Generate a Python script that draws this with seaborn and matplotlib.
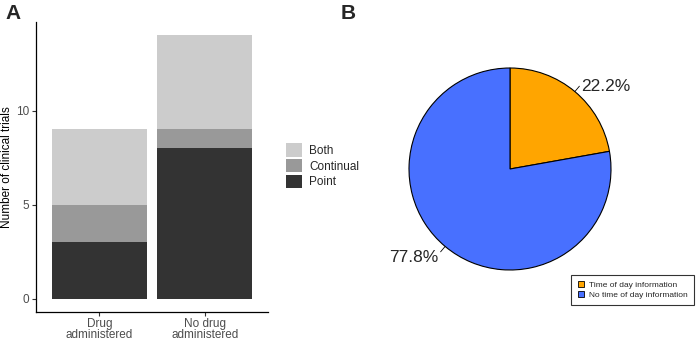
import numpy as np
import pandas as pd
import matplotlib
matplotlib.use("Agg")
import matplotlib.pyplot as plt
import seaborn as sns
from matplotlib.patches import Patch
from matplotlib.lines import Line2D

# ---- data ----
groups = ["Drug\nadministered", "No drug\nadministered"]
point_vals = [3, 8]
continual_vals = [2, 1]
both_vals = [4, 5]
stack_labels = ["Both", "Continual", "Point"]
stack_colors = {"Both": "#CCCCCC", "Continual": "#999999", "Point": "#333333"}

pie_labels = ["Time of day information", "No time of day information"]
pie_values = [22.2, 77.8]
pie_colors = ["#FFA500", "#4870FF"]

sns.set_theme(style="white")
plt.rcParams["font.family"] = ["Liberation Sans", "DejaVu Sans"]

W, H = 699, 341
fig = plt.figure(figsize=(W / 100, H / 100), dpi=100)

# ---- Panel A ----
axA = fig.add_axes([36 / W, 1 - 312 / H, (268 - 36) / W, (312 - 22) / H])
df = pd.DataFrame({"group": groups, "Point": point_vals,
                   "Continual": continual_vals, "Both": both_vals})
df["cum_point"] = df["Point"]
df["cum_cont"] = df["Point"] + df["Continual"]
df["cum_both"] = df["cum_cont"] + df["Both"]
for col, lab in [("cum_both", "Both"), ("cum_cont", "Continual"), ("cum_point", "Point")]:
    sns.barplot(data=df, x="group", y=col, color=stack_colors[lab], width=0.9,
                saturation=1, linewidth=0, ax=axA, errorbar=None)
axA.set_xlim(-0.6, 1.6)
axA.set_ylim(-0.7, 14.7)
axA.set_yticks([0, 5, 10])
axA.set_xlabel("")
axA.set_ylabel("Number of clinical trials", fontsize=8.5, color="black")
axA.yaxis.set_label_coords(-0.097, 0.5)
for s in ["top", "right"]:
    axA.spines[s].set_visible(False)
for s in ["left", "bottom"]:
    axA.spines[s].set_color("black")
    axA.spines[s].set_linewidth(0.9)
axA.tick_params(axis="both", which="both", length=3, width=0.8, color="#333333",
                labelsize=8.5, labelcolor="#4D4D4D", left=True, bottom=True, pad=2)
axA.tick_params(axis="x", pad=1)
for t in axA.get_xticklabels():
    t.set_linespacing(0.92)
handles = [Patch(facecolor=stack_colors[l], edgecolor="none", label=l) for l in stack_labels]
fig.legend(handles=handles, loc="upper left", bbox_to_anchor=(284 / W, 1 - 141 / H),
           frameon=False, fontsize=8.5, handlelength=1.36, handleheight=1.36,
           labelspacing=0.17, handletextpad=0.6, borderaxespad=0, borderpad=0.2)

# ---- Panel B ----
cx, cy, r = 510, 169, 101
s = r * 1.25
axB = fig.add_axes([(cx - s) / W, 1 - (cy + s) / H, 2 * s / W, 2 * s / H])
wedges, _ = axB.pie(pie_values, colors=pie_colors, startangle=90, counterclock=False,
                    wedgeprops=dict(edgecolor="black", linewidth=0.8))
axB.set_xlim(-1.25, 1.25)
axB.set_ylim(-1.25, 1.25)
axB.set_aspect("equal")
axB.axis("off")
for w, v in zip(wedges, pie_values):
    ang = np.deg2rad((w.theta1 + w.theta2) / 2)
    x0, y0 = np.cos(ang), np.sin(ang)
    axB.plot([1.0 * x0, 1.07 * x0], [1.0 * y0, 1.07 * y0], color="black", lw=0.6)
    ha = "left" if x0 > 0 else "right"
    axB.text(1.1 * x0, 1.1 * y0 - 0.03, f"{v:.1f}%", ha=ha, va="center", fontsize=12.5)

hB = [Line2D([], [], marker="s", linestyle="", markerfacecolor=c, markeredgecolor="black",
             markeredgewidth=0.6, markersize=4.5, label=l) for c, l in zip(pie_colors, pie_labels)]
legB = fig.legend(handles=hB, loc="upper right", bbox_to_anchor=(694 / W, 1 - 275 / H),
                  fontsize=6, frameon=True, fancybox=False, borderaxespad=0,
                  handlelength=1.0, handletextpad=0.5, labelspacing=0.3, borderpad=0.7)
legB.get_frame().set_edgecolor("black")
legB.get_frame().set_linewidth(0.8)

# panel letters
fig.text(5 / W, 1 - 4 / H, "A", fontsize=15, fontweight="bold", va="top", ha="left")
fig.text(341 / W, 1 - 4 / H, "B", fontsize=15, fontweight="bold", va="top", ha="left")

fig.savefig("out.png", dpi=100)
